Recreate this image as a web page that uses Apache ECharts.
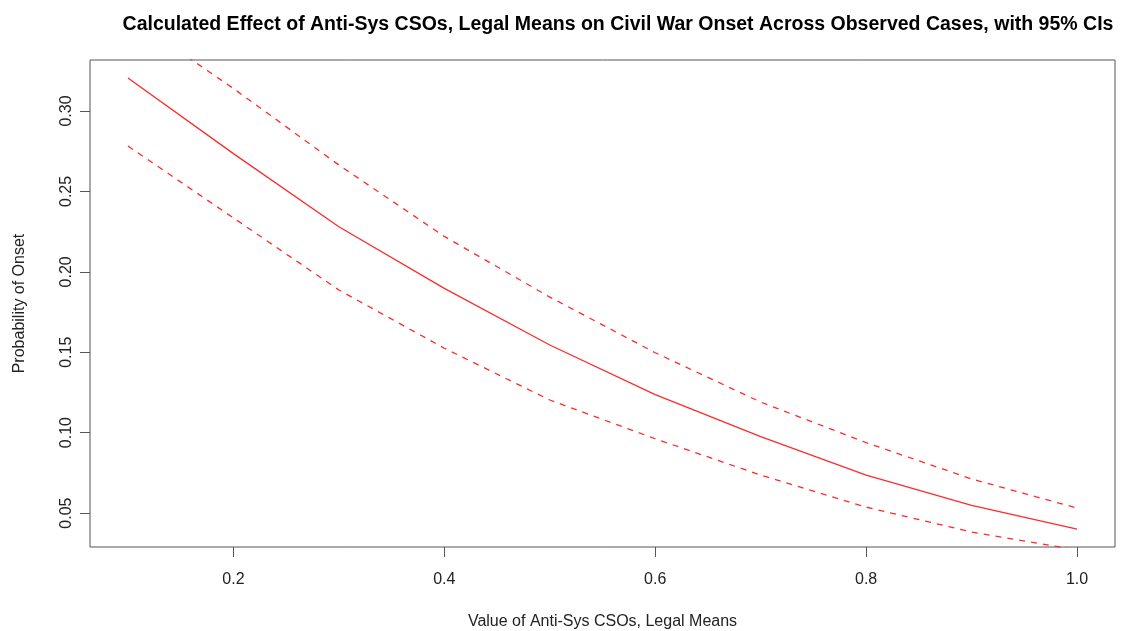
<!DOCTYPE html>
<html>
<head>
<meta charset="utf-8">
<script src="https://cdn.jsdelivr.net/npm/echarts@6/dist/echarts.min.js"></script>
<style>html,body{margin:0;padding:0;background:#fff}#c{width:1129px;height:631px}</style>
</head>
<body>
<div id="c"></div>
<script>
const xValues = [0.1, 0.2, 0.3, 0.4, 0.5, 0.6, 0.7, 0.8, 0.9, 1.0];
const meanProb = [0.3205, 0.2735, 0.2280, 0.1897, 0.1545, 0.1236, 0.0975, 0.0736, 0.0548, 0.0400];
const upperCI = [0.3590, 0.3140, 0.2664, 0.2220, 0.1843, 0.1497, 0.1190, 0.0938, 0.0712, 0.0531];
const lowerCI = [0.2782, 0.2335, 0.1887, 0.1525, 0.1203, 0.0962, 0.0736, 0.0537, 0.0382, 0.0270];
const xTicks = [0.2, 0.4, 0.6, 0.8, 1.0];
const yTicks = [0.05, 0.10, 0.15, 0.20, 0.25, 0.30];

const pairs = arr => xValues.map((x, i) => [x, arr[i]]);
const font = 'Liberation Sans, Arial, Helvetica, sans-serif';

const chart = echarts.init(document.getElementById('c'), null, {renderer: 'canvas'});
chart.setOption({
  animation: false,
  backgroundColor: '#ffffff',
  title: {
    text: 'Calculated Effect of Anti-Sys CSOs, Legal Means on Civil War Onset Across Observed Cases, with 95% CIs',
    left: 613, top: 10, textAlign: 'center',
    textStyle: {fontFamily: font, fontSize: 19.5, fontWeight: 'bold', color: '#000'}
  },
  grid: {left: 90, right: 14, top: 60, bottom: 84, outerBoundsMode: 'none', containLabel: false,
    show: true, borderColor: '#555', borderWidth: 1, backgroundColor: 'transparent'},
  xAxis: {
    type: 'value', min: 0.064, max: 1.036,
    name: 'Value of Anti-Sys CSOs, Legal Means', nameLocation: 'middle', nameGap: 67,
    nameTextStyle: {fontFamily: font, fontSize: 16, color: '#222'},
    axisLine: {show: false},
    splitLine: {show: false},
    axisTick: {show: true, length: 10, inside: false, customValues: xTicks, lineStyle: {color: '#555'}},
    axisLabel: {customValues: xTicks, margin: 25, fontFamily: font, fontSize: 16, color: '#222',
      formatter: v => v.toFixed(1)}
  },
  yAxis: {
    type: 'value', min: 0.0289, max: 0.3317,
    name: 'Probability of Onset', nameLocation: 'middle', nameGap: 62, nameRotate: 90,
    nameTextStyle: {fontFamily: font, fontSize: 16, color: '#222'},
    axisLine: {show: false},
    splitLine: {show: false},
    axisTick: {show: true, length: 10, inside: false, customValues: yTicks, lineStyle: {color: '#555'}},
    axisLabel: {customValues: yTicks, rotate: 90, margin: 15, fontFamily: font, fontSize: 16, color: '#222',
      align: 'center', verticalAlign: 'bottom',
      formatter: v => v.toFixed(2)}
  },
  series: [
    {type: 'line', data: pairs(meanProb), symbol: 'none', clip: true,
      lineStyle: {color: '#ff2a2a', width: 1.3}},
    {type: 'line', data: pairs(upperCI), symbol: 'none', clip: true,
      lineStyle: {color: '#ff2a2a', width: 1.3, type: [6, 6]}},
    {type: 'line', data: pairs(lowerCI), symbol: 'none', clip: true,
      lineStyle: {color: '#ff2a2a', width: 1.3, type: [6, 6]}}
  ]
});
</script>
</body>
</html>
